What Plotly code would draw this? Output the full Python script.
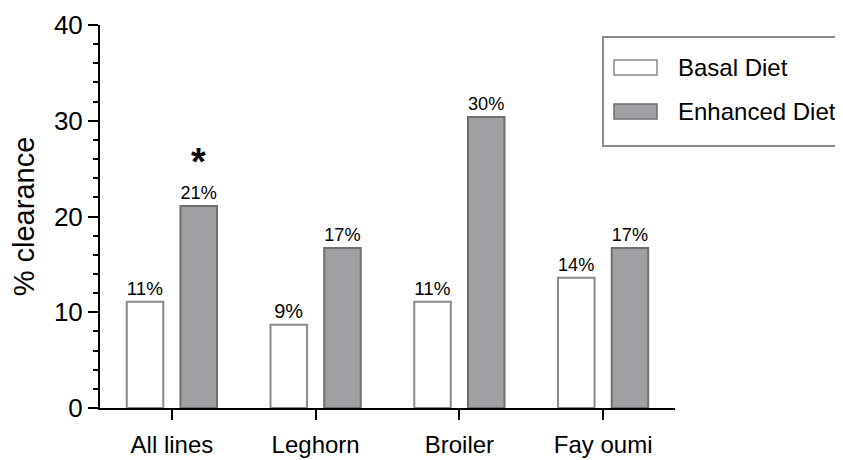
import plotly.graph_objects as go

categories = ["All lines", "Leghorn", "Broiler", "Fay oumi"]
series_names = ["Basal Diet", "Enhanced Diet"]
basal = [11.1, 8.7, 11.1, 13.6]
enhanced = [21.1, 16.7, 30.4, 16.7]
y_ticks = [0, 10, 20, 30, 40]

# page body adds an 8px offset; work in window pixels and convert
OFF = 8
W, H = 843 - OFF, 460 - OFF
L, R, T, B = 100 - OFF, 168, 25 - OFF, 52
pw, ph = W - L - R, H - T - B

def px_x(p):
    return (p - OFF - L) / pw

def px_y(p):
    return (H - B - (p - OFF)) / ph

FONT = "Liberation Sans, Arial, sans-serif"

fig = go.Figure()
fig.add_trace(go.Bar(
    x=categories, y=basal, name=series_names[0],
    marker=dict(color="white", line=dict(color="#8a8a8a", width=2)),
    texttemplate="%{y:.0f}%", textposition="outside",
    textfont=dict(family=FONT, size=20, color="black"),
    cliponaxis=False, showlegend=False,
))
fig.add_trace(go.Bar(
    x=categories, y=enhanced, name=series_names[1],
    marker=dict(color="#a09fa4", line=dict(color="#6e6e6e", width=2)),
    texttemplate="%{y:.0f}%", textposition="outside",
    textfont=dict(family=FONT, size=20, color="black"),
    cliponaxis=False, showlegend=False,
))

# significance marker above enhanced "All lines" bar
fig.add_annotation(x=0.187, y=enhanced[0], xref="x", yref="y", text="<b>*</b>",
                   showarrow=False, yshift=44,
                   font=dict(family=FONT, size=38, color="black"))

# manual legend
shapes = [dict(type="rect", xref="paper", yref="paper",
               x0=px_x(603), x1=px_x(880), y0=px_y(146), y1=px_y(37),
               line=dict(color="#8c8c8c", width=2), fillcolor="rgba(0,0,0,0)")]
sw = [("white", "#8a8a8a", 60, 75), ("#a09fa4", "#6e6e6e", 104, 119)]
for (fc, lc, y0, y1), name in zip(sw, series_names):
    shapes.append(dict(type="rect", xref="paper", yref="paper",
                       x0=px_x(614), x1=px_x(657), y0=px_y(y1), y1=px_y(y0),
                       line=dict(color=lc, width=1.5), fillcolor=fc))
    fig.add_annotation(x=px_x(676), y=px_y((y0 + y1) / 2), xref="paper", yref="paper",
                       text=name, showarrow=False, xanchor="left", yanchor="middle",
                       font=dict(family=FONT, size=24, color="black"))

fig.update_layout(
    width=W, height=H,
    margin=dict(l=L, r=R, t=T, b=B, autoexpand=False),
    paper_bgcolor="white", plot_bgcolor="white",
    barmode="group", bargap=0.253, bargroupgap=0.32,
    shapes=shapes,
    font=dict(family=FONT, color="black"),
)
fig.update_xaxes(
    range=[-0.5, 3.5], showline=True, linecolor="black", linewidth=2,
    ticks="outside", ticklen=10, tickwidth=2, tickcolor="black",
    tickfont=dict(family=FONT, size=24), showgrid=False, zeroline=False,
    ticklabelstandoff=4,
)
fig.update_yaxes(
    range=[0, 40], tickvals=y_ticks, showline=True, linecolor="black", linewidth=2,
    ticks="outside", ticklen=10, tickwidth=2, tickcolor="black",
    tickfont=dict(family=FONT, size=26), showgrid=False, zeroline=False,
    minor=dict(dtick=2, ticks="outside", ticklen=5, tickwidth=2, tickcolor="black", showgrid=False),
    title=dict(text="% clearance", font=dict(family=FONT, size=29), standoff=14),
)
fig.write_html("out.html")
